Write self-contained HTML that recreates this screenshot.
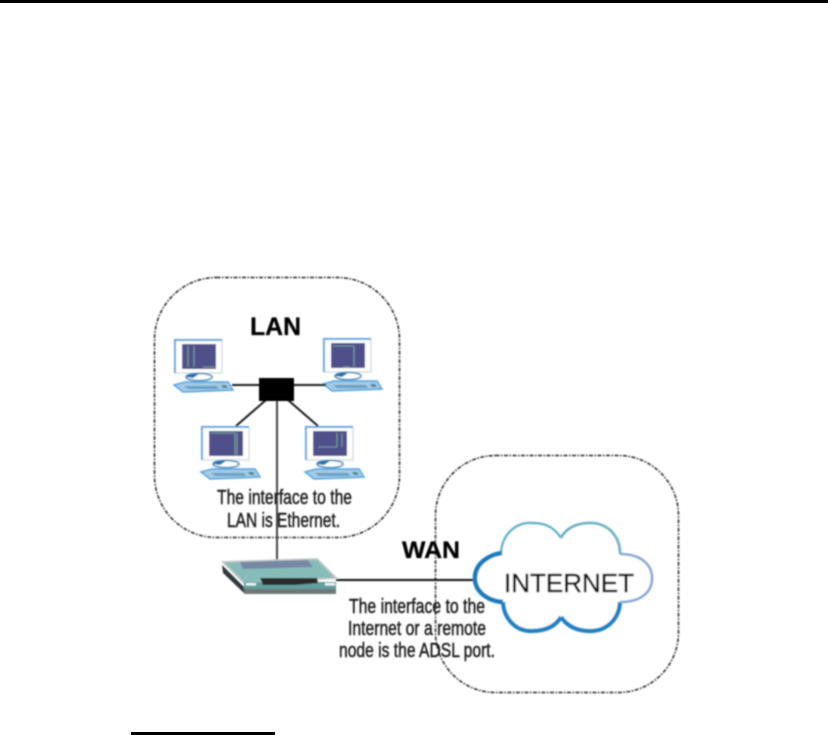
<!DOCTYPE html>
<html><head><meta charset="utf-8"><style>
html,body{margin:0;padding:0;background:#fff}
body{width:828px;height:735px;overflow:hidden}
svg{display:block}
text{font-family:"Liberation Sans",Arial,sans-serif}
</style></head><body>
<svg width="828" height="735" viewBox="0 0 828 735" xmlns="http://www.w3.org/2000/svg">
<defs>
<filter id="b" x="-5%" y="-5%" width="110%" height="110%"><feGaussianBlur stdDeviation="0.7"/></filter>
<g id="pc">
  <rect x="0" y="0" width="47" height="33" fill="#fff" stroke="#cfdbe3" stroke-width="1.400"/>
  <path d="M0 33V0H47" fill="none" stroke="#5fa6e4" stroke-width="2"/>
  <rect x="7" y="4" width="34" height="25" fill="#4f4f8a"/>
  <ellipse cx="24" cy="37" rx="13" ry="3.600" fill="#fff" stroke="#4a90bc" stroke-width="1.600"/>
  <path d="M11 37Q14 33 24 34L18 38Z" fill="#1f72b0"/>
  <path d="M-1 45L10 42H53L58 50L8 52Z" fill="#a4cbe4" stroke="#4fa4e2" stroke-width="1.500"/>
  <path d="M9 46H42L44 49H13Z" fill="#6a9fc4"/>
  <path d="M46 45H51L53 48H48Z" fill="#4d8798"/>
</g>
</defs>
<rect x="0" y="0" width="828" height="3" fill="#000"/>
<rect x="131" y="732" width="144" height="3" fill="#000"/>
<g filter="url(#b)">
  <rect x="154.500" y="277.500" width="245" height="260" rx="62" ry="62" fill="none" stroke="#222" stroke-width="1.500" stroke-dasharray="4 1.500 1.500 1.500"/>
  <rect x="435.500" y="455.500" width="243" height="237" rx="60" ry="60" fill="none" stroke="#222" stroke-width="1.500" stroke-dasharray="4 1.500 1.500 1.500"/>

  <use href="#pc" x="175" y="340"/>
  <use href="#pc" x="324" y="339"/>
  <use href="#pc" x="202" y="427"/>
  <use href="#pc" x="306" y="427"/>
  <g fill="none" stroke="#7fb89a" stroke-width="0.8">
    <path d="M188 346V367M194 346V367M203 367H215"/>
    <path d="M333 346H354V367M343 367H350"/>
    <path d="M211 433H235V455M237 433V455"/>
    <path d="M337 433V447H318M342 433V447"/>
  </g>

  <g stroke="#1a1a1a" stroke-width="2" fill="none">
    <path d="M232 385H260M294 385H326"/>
    <path d="M266 400L236 426M288 400L318 426"/>
  </g>
  <path d="M277 400V561" stroke="#444" stroke-width="2" fill="none"/>
  <rect x="259" y="378" width="35" height="23" fill="#060606"/>

  <path d="M336 580H475" stroke="#111" stroke-width="2" fill="none"/>

  <!-- router -->
  <path d="M223 562L317 559L336 578L244 583Z" fill="#86bcb8" stroke="#bfc4c4" stroke-width="1.800"/>
  <path d="M240 562L308 560L313 567L243 569Z" fill="#7688a4"/>
  <path d="M222 565L244 587V593L223 573Z" fill="#33373d"/>
  <rect x="244" y="582" width="92" height="12" fill="#5f9f9c"/>
  <rect x="244" y="589" width="92" height="5" fill="#6f7778"/>
  <path d="M260 578H317L318 583L295 585H263Z" fill="#2c2c2c"/>
  <rect x="246" y="583" width="10" height="2.500" fill="#eef4f4"/>
  <rect x="325" y="583" width="10" height="2.500" fill="#eef4f4"/>

  <!-- cloud -->
  <path d="M561 538C552 524 541 523 530 523C514 523 502 536 502 553C486 555 473 564 473 578C473 592 487 601 503 602C504 620 516 633 531 633C545 633 555 628 561 617C568 628 578 633 590 633C607 633 619 620 620 602C640 602 653 593 653 578C653 564 640 554 620 554C620 535 607 523 590 523C577 523 567 528 561 538Z" fill="#fff"/>
  <path d="M561 538C552 524 541 523 530 523C514 523 502 536 501 553" fill="none" stroke="#5fb2cf" stroke-width="2.400"/>
  <path d="M561 538C566 528 577 523 590 523C607 523 620 535 620 554" fill="none" stroke="#6cb2c6" stroke-width="2.800"/>
  <path d="M502 553C488 555 475 564 475 578C475 592 488 601 503 602" fill="none" stroke="#167cc0" stroke-width="4.600"/>
  <path d="M503 602C504 619 516 631 531 631C545 631 555 627 561 617" fill="none" stroke="#1a82c4" stroke-width="4.200"/>
  <path d="M561 617C568 627 578 631 590 631C607 631 619 619 620 602" fill="none" stroke="#1a82c4" stroke-width="4.200"/>
  <path d="M620 554C640 554 652 564 652 578C652 593 640 602 620 602" fill="none" stroke="#85a8d8" stroke-width="2.600"/>

  <text x="504" y="592" font-size="26" fill="#111" stroke="#111" stroke-width="0.500" textLength="130" lengthAdjust="spacingAndGlyphs">INTERNET</text>
  <text x="250" y="335" font-size="24.800" font-weight="bold" fill="#000" stroke="#000" stroke-width="0.300" textLength="51" lengthAdjust="spacingAndGlyphs">LAN</text>
  <text x="402" y="558" font-size="24.300" font-weight="bold" fill="#000" stroke="#000" stroke-width="0.300" textLength="58" lengthAdjust="spacingAndGlyphs">WAN</text>

  <g font-size="20" fill="#1a1a1a" stroke="#1a1a1a" stroke-width="0.450">
    <text x="217" y="504" textLength="135" lengthAdjust="spacingAndGlyphs">The interface to the</text>
    <text x="227" y="527" textLength="113" lengthAdjust="spacingAndGlyphs">LAN is Ethernet.</text>
    <text x="349" y="613" textLength="136" lengthAdjust="spacingAndGlyphs">The interface to the</text>
    <text x="348" y="635" textLength="138" lengthAdjust="spacingAndGlyphs">Internet or a remote</text>
    <text x="339" y="657" textLength="156" lengthAdjust="spacingAndGlyphs">node is the ADSL port.</text>
  </g>
</g>
</svg>
</body></html>
